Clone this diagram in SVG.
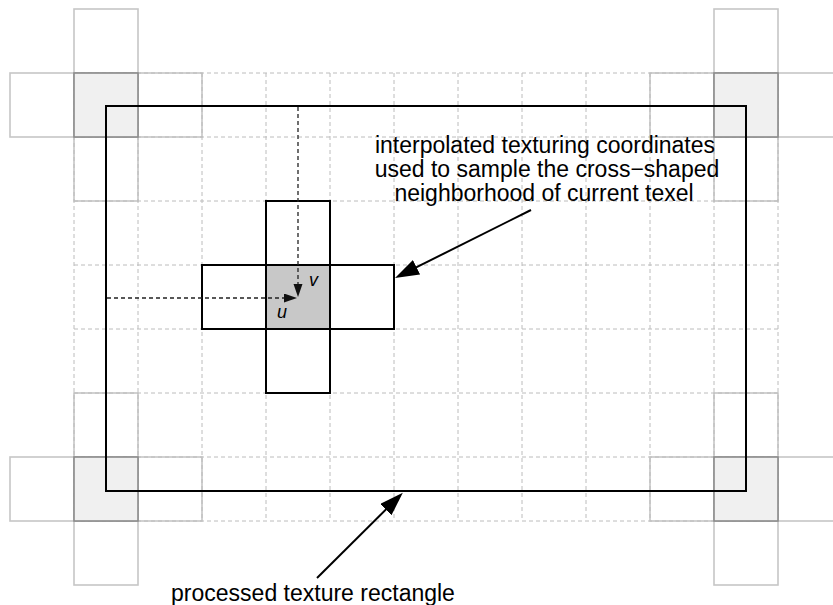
<svg xmlns="http://www.w3.org/2000/svg" width="833" height="605" viewBox="0 0 833 605">
  <style>
    .arm { fill: #ffffff; stroke: #c6c6c6; stroke-width: 1.6; }
    .core { fill: #f0f0f0; stroke: #8a8a8a; stroke-width: 1.6; }
    .grid line { stroke: #bcbcbc; stroke-width: 1; stroke-dasharray: 4 3; }
    .frame { fill: none; stroke: #000000; stroke-width: 2; }
    .carm { fill: #ffffff; stroke: #000000; stroke-width: 2; }
    .ccore { fill: #c8c8c8; stroke: #000000; stroke-width: 2; }
    .coord { fill: none; stroke: #222222; stroke-width: 1.3; stroke-dasharray: 4 3; }
    .pointer { fill: none; stroke: #000000; stroke-width: 2; }
    .label { font-family: "Liberation Sans", Arial, sans-serif; font-size: 23px; fill: #000000; }
    .var { font-family: "Liberation Sans", Arial, sans-serif; font-size: 18px; font-style: italic; fill: #000000; }
  </style>
  <defs>
    <marker id="bigHead" markerUnits="userSpaceOnUse" markerWidth="26" markerHeight="18" refX="20" refY="8" orient="auto">
      <path d="M0,0 L24,8 L0,16 Z" fill="#000000"/>
    </marker>
    <marker id="smallHead" markerUnits="userSpaceOnUse" markerWidth="14" markerHeight="10" refX="11" refY="4.5" orient="auto">
      <path d="M0,0 L13,4.5 L0,9 Z" fill="#111111"/>
    </marker>
    <!-- cross-shaped neighbourhood: arms around the 64x64 core at the origin -->
    <g id="armSet">
      <rect class="arm" x="0" y="-64" width="64" height="64"/>
      <rect class="arm" x="-64" y="0" width="64" height="64"/>
      <rect class="arm" x="64" y="0" width="64" height="64"/>
      <rect class="arm" x="0" y="64" width="64" height="64"/>
    </g>
  </defs>

  <!-- arms of the corner neighbourhoods -->
  <g id="corner-arms">
    <use href="#armSet" transform="translate(74,73)"/>
    <use href="#armSet" transform="translate(714,73)"/>
    <use href="#armSet" transform="translate(74,457)"/>
    <use href="#armSet" transform="translate(714,457)"/>
  </g>

  <!-- texel grid -->
  <g class="grid" id="grid">
    <line x1="74" y1="73" x2="74" y2="521"/>
    <line x1="138" y1="73" x2="138" y2="521"/>
    <line x1="202" y1="73" x2="202" y2="521"/>
    <line x1="266" y1="73" x2="266" y2="521"/>
    <line x1="330" y1="73" x2="330" y2="521"/>
    <line x1="394" y1="73" x2="394" y2="521"/>
    <line x1="458" y1="73" x2="458" y2="521"/>
    <line x1="522" y1="73" x2="522" y2="521"/>
    <line x1="586" y1="73" x2="586" y2="521"/>
    <line x1="650" y1="73" x2="650" y2="521"/>
    <line x1="714" y1="73" x2="714" y2="521"/>
    <line x1="778" y1="73" x2="778" y2="521"/>
    <line x1="74" y1="73" x2="778" y2="73"/>
    <line x1="74" y1="137" x2="778" y2="137"/>
    <line x1="74" y1="201" x2="778" y2="201"/>
    <line x1="74" y1="265" x2="778" y2="265"/>
    <line x1="74" y1="329" x2="778" y2="329"/>
    <line x1="74" y1="393" x2="778" y2="393"/>
    <line x1="74" y1="457" x2="778" y2="457"/>
    <line x1="74" y1="521" x2="778" y2="521"/>
  </g>

  <!-- corner texels -->
  <g id="corner-top-left"><rect class="core" x="74" y="73" width="64" height="64"/></g>
  <g id="corner-top-right"><rect class="core" x="714" y="73" width="64" height="64"/></g>
  <g id="corner-bottom-left"><rect class="core" x="74" y="457" width="64" height="64"/></g>
  <g id="corner-bottom-right"><rect class="core" x="714" y="457" width="64" height="64"/></g>

  <!-- processed texture rectangle -->
  <g id="texture-rect">
    <rect class="frame" x="106" y="106" width="640" height="385"/>
  </g>

  <!-- neighbourhood of the current texel -->
  <g id="current-cross">
    <rect class="carm" x="266" y="201" width="64" height="64"/>
    <rect class="carm" x="202" y="265" width="64" height="64"/>
    <rect class="carm" x="330" y="265" width="64" height="64"/>
    <rect class="carm" x="266" y="329" width="64" height="64"/>
    <rect class="ccore" x="266" y="265" width="64" height="64"/>
  </g>

  <!-- connectors -->
  <g id="connectors">
    <line class="coord" x1="298" y1="107" x2="298" y2="295" marker-end="url(#smallHead)"/>
    <line class="coord" x1="107" y1="298" x2="295" y2="298" marker-end="url(#smallHead)"/>
    <line class="pointer" x1="531" y1="210" x2="398.6" y2="276.2" marker-end="url(#bigHead)"/>
    <line class="pointer" x1="317" y1="578" x2="400" y2="495.5" marker-end="url(#bigHead)"/>
  </g>

  <!-- labels -->
  <g id="labels">
    <text class="var" x="309" y="286">v</text>
    <text class="var" x="277" y="318">u</text>
    <text class="label" text-anchor="middle" x="545" y="152.5">interpolated texturing coordinates</text>
    <text class="label" text-anchor="middle" x="547" y="176.5">used to sample the cross−shaped</text>
    <text class="label" text-anchor="middle" x="544" y="200.5">neighborhood of current texel</text>
    <text class="label" text-anchor="middle" x="313" y="601">processed texture rectangle</text>
  </g>
</svg>
